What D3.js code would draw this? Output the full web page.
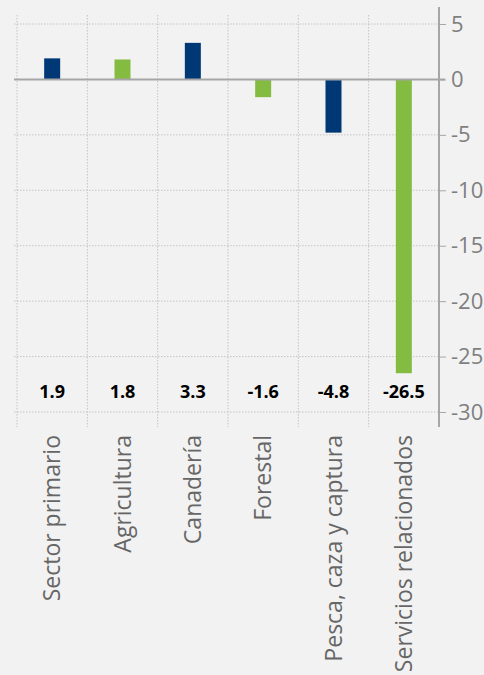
<!DOCTYPE html>
<html>
<head>
<meta charset="utf-8">
<script src="https://cdn.jsdelivr.net/npm/d3@7"></script>
<style>
	body { margin: 0; background: #f2f2f2; }
	svg { display: block; font-family: "Open Sans", sans-serif; }
</style>
</head>
<body>
<div id="chart"></div>
<script>
// data
const categories = ["Sector primario", "Agricultura", "Canadería", "Forestal", "Pesca, caza y captura", "Servicios relacionados"];
const values = [1.9, 1.8, 3.3, -1.6, -4.8, -26.5];
const barColors = ["#003876", "#84bb41", "#003876", "#84bb41", "#003876", "#84bb41"];
const yTicks = [5, 0, -5, -10, -15, -20, -25, -30];

const width = 484, height = 675;
// plain hyphen for negatives, like the original
const fmtInt = d => String(d).replace("\u2212", "-");
const fmtVal = d => d.toFixed(1);

const svg = d3.select("#chart").append("svg")
	.attr("width", width)
	.attr("height", height);

svg.append("rect").attr("width", width).attr("height", height).attr("fill", "#f2f2f2");

// scales
const x = d3.scaleBand().domain(categories).range([17, 439]).padding(0);
const y = d3.scaleLinear().domain([5, -30]).range([24, 412]);
const barW = 16;

// horizontal dotted gridlines
svg.append("g").selectAll("line")
	.data(yTicks.filter(d => d !== 0))
	.join("line")
	.attr("x1", 14).attr("x2", 439)
	.attr("y1", d => y(d)).attr("y2", d => y(d))
	.attr("stroke", "#c4c4c4")
	.attr("stroke-width", 1)
	.attr("stroke-dasharray", "1.5,1.5");

// vertical dotted gridlines (band edges)
svg.append("g").selectAll("line")
	.data(categories)
	.join("line")
	.attr("x1", d => x(d)).attr("x2", d => x(d))
	.attr("y1", 15).attr("y2", 427)
	.attr("stroke", "#c4c4c4")
	.attr("stroke-width", 1)
	.attr("stroke-dasharray", "1.5,1.5");

// bars
svg.append("g").selectAll("rect")
	.data(values)
	.join("rect")
	.attr("x", (d, i) => x(categories[i]) + x.bandwidth() / 2 - barW / 2)
	.attr("y", d => y(Math.max(0, d)))
	.attr("width", barW)
	.attr("height", d => Math.abs(y(d) - y(0)))
	.attr("fill", (d, i) => barColors[i]);

// zero line
svg.append("line")
	.attr("x1", 14).attr("x2", 445)
	.attr("y1", y(0)).attr("y2", y(0))
	.attr("stroke", "#a6a6a8")
	.attr("stroke-width", 2);

// right axis
const yAxis = svg.append("g")
	.attr("transform", "translate(439,0)")
	.call(d3.axisRight(y).tickValues(yTicks).tickSize(7).tickPadding(5).tickFormat(fmtInt));
yAxis.select(".domain").remove();
yAxis.selectAll(".tick line").attr("stroke", "#a6a6a8").attr("stroke-width", 1);
yAxis.selectAll(".tick text")
	.attr("fill", "#7f7f7f")
	.style("font-size", "22px")
	.style("font-family", "'Open Sans', sans-serif");
yAxis.append("line")
	.attr("x1", 0).attr("x2", 0)
	.attr("y1", 7).attr("y2", 427)
	.attr("stroke", "#a6a6a8")
	.attr("stroke-width", 2);

// value labels row
svg.append("g").selectAll("text")
	.data(values)
	.join("text")
	.attr("x", (d, i) => x(categories[i]) + x.bandwidth() / 2)
	.attr("y", 397.5)
	.attr("text-anchor", "middle")
	.attr("font-weight", "bold")
	.attr("font-size", 18)
	.attr("fill", "#000")
	.text(fmtVal);

// category labels, rotated
svg.append("g").selectAll("text")
	.data(categories)
	.join("text")
	.attr("transform", d => `translate(${x(d) + x.bandwidth() / 2 + 8},435) rotate(-90)`)
	.attr("text-anchor", "end")
	.attr("font-size", 23)
	.attr("fill", "#666")
	.text(d => d);
</script>
</body>
</html>
